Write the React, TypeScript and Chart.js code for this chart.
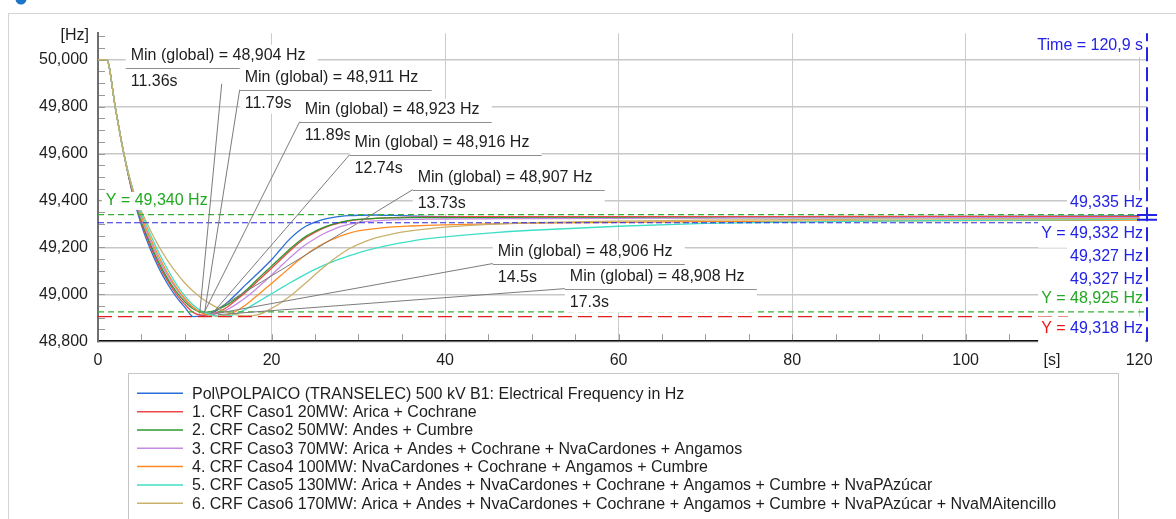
import React, { useEffect, useRef } from 'react';
import { Chart, registerables } from 'chart.js';

Chart.register(...registerables);

const FONT = "'Liberation Sans', Arial, Helvetica, sans-serif";

// ---------- data ----------
const TIME_S = [0, 1, 2, 3, 4, 5, 6, 7, 8, 9, 10, 11, 12, 13, 14, 15, 16, 17, 18, 19, 20, 21, 22, 23, 24, 25, 26, 27, 28, 29, 30, 32, 34, 36, 38, 40, 45, 50, 60, 70, 80, 90, 100, 110, 120];

const POLPAICO_HZ = [50000, 50000, 49795, 49595, 49425, 49295, 49195, 49112, 49045, 48990, 48945, 48905, 48909, 48917, 48938, 48968, 49003, 49040, 49075, 49110, 49147, 49190, 49232, 49266, 49291, 49308, 49319, 49327, 49332, 49335, 49337, 49338, 49336, 49334, 49332, 49331, 49329, 49328, 49328, 49329, 49330, 49331, 49332, 49333, 49335];
const CASO1_HZ = [50000, 50000, 49795, 49595, 49430, 49305, 49208, 49125, 49058, 49002, 48957, 48922, 48911, 48914, 48927, 48948, 48978, 49008, 49042, 49077, 49111, 49146, 49181, 49214, 49242, 49264, 49282, 49296, 49306, 49313, 49318, 49324, 49327, 49329, 49330, 49330, 49331, 49331, 49331, 49331, 49331, 49332, 49332, 49332, 49332];
const CASO2_HZ = [50000, 50000, 49795, 49595, 49435, 49312, 49218, 49136, 49068, 49012, 48968, 48937, 48923, 48926, 48939, 48958, 48984, 49015, 49050, 49086, 49120, 49155, 49189, 49221, 49248, 49268, 49285, 49298, 49308, 49315, 49319, 49324, 49326, 49327, 49327, 49327, 49327, 49327, 49327, 49327, 49327, 49327, 49327, 49327, 49327];
const CASO3_HZ = [50000, 50000, 49795, 49595, 49440, 49322, 49230, 49150, 49082, 49025, 48978, 48943, 48922, 48916, 48921, 48937, 48959, 48985, 49015, 49048, 49082, 49117, 49152, 49185, 49213, 49237, 49258, 49275, 49289, 49299, 49306, 49313, 49317, 49319, 49320, 49321, 49322, 49323, 49324, 49325, 49326, 49326, 49327, 49327, 49327];
const CASO4_HZ = [50000, 50000, 49795, 49595, 49445, 49332, 49242, 49162, 49092, 49032, 48982, 48944, 48920, 48910, 48907, 48913, 48930, 48954, 48984, 49015, 49046, 49078, 49110, 49142, 49170, 49195, 49216, 49234, 49249, 49261, 49270, 49280, 49287, 49291, 49294, 49296, 49300, 49303, 49307, 49310, 49312, 49313, 49314, 49315, 49316];
const CASO5_HZ = [50000, 50000, 49795, 49595, 49450, 49345, 49258, 49178, 49108, 49045, 48993, 48953, 48927, 48912, 48906, 48908, 48918, 48936, 48958, 48980, 49002, 49024, 49046, 49067, 49087, 49106, 49123, 49138, 49152, 49165, 49177, 49197, 49213, 49226, 49237, 49245, 49261, 49273, 49290, 49302, 49308, 49312, 49315, 49317, 49319];
const CASO6_HZ = [50000, 50000, 49795, 49595, 49448, 49355, 49275, 49205, 49145, 49093, 49048, 49012, 48982, 48958, 48938, 48922, 48912, 48908, 48910, 48920, 48940, 48962, 48988, 49018, 49050, 49083, 49115, 49145, 49172, 49195, 49213, 49240, 49258, 49270, 49279, 49286, 49298, 49305, 49312, 49316, 49318, 49320, 49321, 49322, 49323];

const SERIES_VALUES = [POLPAICO_HZ, CASO1_HZ, CASO2_HZ, CASO3_HZ, CASO4_HZ, CASO5_HZ, CASO6_HZ];
const SERIES_LABELS = [
  'Pol\\POLPAICO (TRANSELEC) 500 kV B1: Electrical Frequency in Hz',
  '1. CRF Caso1 20MW: Arica + Cochrane',
  '2. CRF Caso2 50MW: Andes + Cumbre',
  '3. CRF Caso3 70MW: Arica + Andes + Cochrane + NvaCardones + Angamos',
  '4. CRF Caso4 100MW: NvaCardones + Cochrane + Angamos + Cumbre',
  '5. CRF Caso5 130MW: Arica + Andes + NvaCardones + Cochrane + Angamos + Cumbre + NvaPAzúcar',
  '6. CRF Caso6 170MW: Arica + Andes + NvaCardones + Cochrane + Angamos + Cumbre + NvaPAzúcar + NvaMAitencillo',
];
const SERIES_COLORS = ['#2a6ed8', '#ec4848', '#2e982e', '#c58ae4', '#ff8a22', '#3fdfc6', '#c9b26c'];

// horizontal reference lines (Hz) and where they end (s)
const REF_VALUES = [49340, 49305, 48925, 48905];
const REF_ENDS = [120.9, 111.8, 120.9, 111.8];
const REF_COLORS = ['#34b234', '#2b2be0', '#34b234', '#e21e1e'];
const REF_DASHES = [[6, 4], [6, 3], [6, 4], [14, 6]];

const CURSOR_TIME = 120.9;
const X_MIN = 0;
const X_MAX = 120.9;
const Y_MIN = 48800;
const Y_MAX = 50113;
const X_STEP = 20;
const Y_STEP = 200;
const X_MINOR = 5;
const Y_MINOR = 50;

// "Min (global)" annotations
const ANN_TITLES = ['Min (global) = 48,904 Hz', 'Min (global) = 48,911 Hz', 'Min (global) = 48,923 Hz', 'Min (global) = 48,916 Hz', 'Min (global) = 48,907 Hz', 'Min (global) = 48,906 Hz', 'Min (global) = 48,908 Hz'];
const ANN_TIMES = ['11.36s', '11.79s', '11.89s', '12.74s', '13.73s', '14.5s', '17.3s'];
const ANN_BOX_T = [3.19, 16.33, 23.25, 29.0, 36.27, 45.5, 53.8];
const ANN_BOX_V = [49966, 49872, 49736, 49595, 49446, 49131, 49024];
const ANN_FROM_T = [14.26, 16.33, 23.25, 29.0, 36.27, 45.5, 53.8];
const ANN_FROM_V = [49897, 49872, 49736, 49595, 49446, 49131, 49024];
const ANN_TO_T = [11.72, 12.3, 12.18, 13.18, 12.88, 13.22, 13.8];
const ANN_TO_V = [48918, 48926, 48918, 48918, 48918, 48915, 48913];

const BLUE_TXT = '#2323e6';
const GREEN_TXT = '#22a822';
const RED_TXT = '#f01414';

const CURSOR_LABELS = [
  { v: 50059, parts: [['Time = 120,9 s', BLUE_TXT]], down: 11 },
  { v: 49390, parts: [['49,335 Hz', BLUE_TXT]], down: 11 },
  { v: 49258, parts: [['Y = ', BLUE_TXT], ['49,332 Hz', BLUE_TXT]], down: 14 },
  { v: 49160, parts: [['49,327 Hz', BLUE_TXT]], down: 11 },
  { v: 49062, parts: [['49,327 Hz', BLUE_TXT]], down: 11 },
  { v: 48981, parts: [['Y = 48,925 Hz', GREEN_TXT]], down: 10 },
  { v: 48854, parts: [['Y = ', RED_TXT], ['49,318 Hz', BLUE_TXT]], down: 15 },
];
const LEFT_LABEL = { t: 0.9, v: 49398, text: 'Y = 49,340 Hz' };
const CURSOR_MARKS = [49338, 49318];

function fmt(v: number) {
  return Number(v).toLocaleString('en-US');
}

const decorPlugin = {
  id: 'decor',
  beforeDraw(chart: any) {
    const { ctx } = chart;
    ctx.save();
    ctx.fillStyle = '#ffffff';
    ctx.fillRect(0, 0, chart.width, chart.height);
    ctx.strokeStyle = '#d4d4d4';
    ctx.lineWidth = 1;
    ctx.beginPath();
    ctx.moveTo(8, 13.5);
    ctx.lineTo(chart.width, 13.5);
    ctx.moveTo(8.5, 13);
    ctx.lineTo(8.5, chart.height);
    ctx.stroke();
    ctx.fillStyle = '#1c74c9';
    ctx.beginPath();
    ctx.arc(21, -1, 5.5, 0, Math.PI * 2);
    ctx.fill();
    ctx.restore();
  },
  beforeDatasetsDraw(chart: any) {
    const { ctx, chartArea: a } = chart;
    const xs = chart.scales.x;
    const ys = chart.scales.y;
    ctx.save();
    ctx.strokeStyle = '#9a9a9a';
    ctx.lineWidth = 1;
    ctx.beginPath();
    for (let v = Y_MIN + Y_MINOR; v <= Y_MAX; v += Y_MINOR) {
      const y = Math.round(ys.getPixelForValue(v)) + 0.5;
      ctx.moveTo(a.left + 1, y);
      ctx.lineTo(a.left + 7, y);
    }
    for (let t = X_MINOR; t <= X_MAX; t += X_MINOR) {
      const x = Math.round(xs.getPixelForValue(t)) + 0.5;
      ctx.moveTo(x, a.bottom - 1);
      ctx.lineTo(x, a.bottom - 7);
    }
    ctx.stroke();
    ctx.restore();
  },
  afterDatasetsDraw(chart: any) {
    const { ctx, chartArea: a } = chart;
    const xs = chart.scales.x;
    const ys = chart.scales.y;
    ctx.save();
    ctx.font = `16px ${FONT}`;
    ctx.textBaseline = 'middle';

    // left reference label
    {
      const x = xs.getPixelForValue(LEFT_LABEL.t);
      const y = ys.getPixelForValue(LEFT_LABEL.v);
      const w = ctx.measureText(LEFT_LABEL.text).width;
      ctx.fillStyle = '#fff';
      ctx.fillRect(x - 4, y - 9, w + 6, 18);
      ctx.fillStyle = GREEN_TXT;
      ctx.fillText(LEFT_LABEL.text, x, y);
    }

    // annotations
    const BW = 192;
    for (let i = 0; i < ANN_TITLES.length; i++) {
      const bx = xs.getPixelForValue(ANN_BOX_T[i]);
      const sy = ys.getPixelForValue(ANN_BOX_V[i]);
      ctx.fillStyle = '#fff';
      ctx.fillRect(bx, sy - 23, BW, 47);
      ctx.strokeStyle = '#8e8e8e';
      ctx.lineWidth = 1;
      ctx.beginPath();
      ctx.moveTo(bx, Math.round(sy) + 0.5);
      ctx.lineTo(bx + BW, Math.round(sy) + 0.5);
      ctx.stroke();
      ctx.fillStyle = '#1e1e1e';
      ctx.fillText(ANN_TITLES[i], bx + 5, sy - 12);
      ctx.fillText(ANN_TIMES[i], bx + 5, sy + 14);
      ctx.strokeStyle = '#7c7c7c';
      ctx.beginPath();
      ctx.moveTo(xs.getPixelForValue(ANN_FROM_T[i]), ys.getPixelForValue(ANN_FROM_V[i]));
      ctx.lineTo(xs.getPixelForValue(ANN_TO_T[i]), ys.getPixelForValue(ANN_TO_V[i]));
      ctx.stroke();
    }

    // cursor labels on the right
    const xr = a.right - 4;
    for (const lab of CURSOR_LABELS) {
      const y = ys.getPixelForValue(lab.v);
      let total = 0;
      for (const p of lab.parts) total += ctx.measureText(p[0]).width;
      const x0 = xr - total;
      ctx.fillStyle = '#fff';
      ctx.fillRect(x0 - 3, y - 12, a.right - 1.5 - (x0 - 3), 12 + lab.down);
      let x = x0;
      for (const p of lab.parts) {
        ctx.fillStyle = p[1];
        ctx.fillText(p[0], x, y);
        x += ctx.measureText(p[0]).width;
      }
    }

    // cursor markers
    ctx.strokeStyle = '#2323e6';
    ctx.lineWidth = 2;
    ctx.beginPath();
    for (const v of CURSOR_MARKS) {
      const y = ys.getPixelForValue(v);
      const cx = xs.getPixelForValue(CURSOR_TIME);
      ctx.moveTo(cx - 10, y);
      ctx.lineTo(cx + 10, y);
    }
    ctx.stroke();
    ctx.restore();
  },
  afterDraw(chart: any) {
    const { ctx, chartArea: a } = chart;
    ctx.save();
    ctx.font = `16px ${FONT}`;
    ctx.textBaseline = 'middle';
    ctx.fillStyle = '#1e1e1e';
    ctx.textAlign = 'right';
    ctx.fillText('[Hz]', a.left - 9, 36);
    ctx.textAlign = 'center';
    ctx.fillText('[s]', 1052, a.bottom + 19.5);

    // legend
    ctx.textAlign = 'left';
    ctx.strokeStyle = '#c6c6c6';
    ctx.lineWidth = 1;
    ctx.strokeRect(128.5, 373.5, 990, 200);
    const datasets = chart.data.datasets.filter((d: any) => d.isSeries);
    datasets.forEach((d: any, i: number) => {
      const y = 393.3 + i * 18.33;
      ctx.strokeStyle = d.borderColor;
      ctx.lineWidth = 1.5;
      ctx.beginPath();
      ctx.moveTo(137, y);
      ctx.lineTo(183, y);
      ctx.stroke();
      ctx.fillStyle = '#1e1e1e';
      ctx.fillText(d.label, 192, y + 1);
    });
    ctx.restore();
  },
};

export default function App() {
  const ref = useRef<HTMLCanvasElement>(null);
  useEffect(() => {
    const canvas = ref.current;
    if (!canvas) return;
    const seriesSets = SERIES_VALUES.map((vals, i) => ({
      label: SERIES_LABELS[i],
      isSeries: true,
      data: TIME_S.map((t, k) => ({ x: t, y: vals[k] })),
      borderColor: SERIES_COLORS[i],
      backgroundColor: SERIES_COLORS[i],
      borderWidth: 1.3,
      pointRadius: 0,
      cubicInterpolationMode: 'monotone',
      fill: false,
      order: 20 - i,
    }));
    const refSets = REF_VALUES.map((v, i) => ({
      label: 'ref' + i,
      isSeries: false,
      data: [{ x: X_MIN, y: v }, { x: REF_ENDS[i], y: v }],
      borderColor: REF_COLORS[i],
      borderWidth: 1.2,
      borderDash: REF_DASHES[i],
      pointRadius: 0,
      fill: false,
      order: 2,
    }));
    const cursorSet = {
      label: 'cursor',
      isSeries: false,
      data: [{ x: CURSOR_TIME, y: Y_MIN }, { x: CURSOR_TIME, y: Y_MAX }],
      borderColor: '#2323e6',
      borderWidth: 2,
      borderDash: [14, 6],
      pointRadius: 0,
      fill: false,
      clip: false,
      order: 1,
    };
    const chart = new Chart(canvas, {
      type: 'line',
      data: { datasets: [...seriesSets, ...refSets, cursorSet] as any },
      options: {
        animation: false,
        responsive: false,
        devicePixelRatio: 1,
        events: [],
        layout: { padding: { left: 0, right: 29, top: 33.2, bottom: 147.8 } },
        plugins: { legend: { display: false }, tooltip: { enabled: false }, title: { display: false } },
        font: { family: FONT, size: 16 },
        scales: {
          x: {
            type: 'linear',
            min: X_MIN,
            max: X_MAX,
            afterFit: (s: any) => { s.height = 30; },
            grid: { color: '#cbcbcb', lineWidth: 1, drawTicks: false },
            border: { color: '#111111', width: 1.5 },
            ticks: {
              stepSize: X_STEP,
              includeBounds: false,
              autoSkip: false,
              maxRotation: 0,
              padding: 10,
              color: '#1e1e1e',
              font: { family: FONT, size: 16 },
              callback: (v: any) => String(v),
            },
          },
          y: {
            type: 'linear',
            min: Y_MIN,
            max: Y_MAX,
            afterFit: (s: any) => { s.width = 98; },
            grid: { color: '#c8c8c8', lineWidth: 1.4, drawTicks: false },
            border: { color: '#6e6e6e', width: 2 },
            ticks: {
              stepSize: Y_STEP,
              includeBounds: false,
              autoSkip: false,
              padding: 10,
              color: '#1e1e1e',
              font: { family: FONT, size: 16 },
              callback: (v: any) => fmt(v),
            },
          },
        },
      } as any,
      plugins: [decorPlugin],
    });
    return () => chart.destroy();
  }, []);
  return (
    <div style={{ position: 'absolute', left: 0, top: 0, width: 1176, height: 519, background: '#fff' }}>
      <canvas ref={ref} width={1176} height={519} style={{ display: 'block', width: 1176, height: 519 }} />
    </div>
  );
}
